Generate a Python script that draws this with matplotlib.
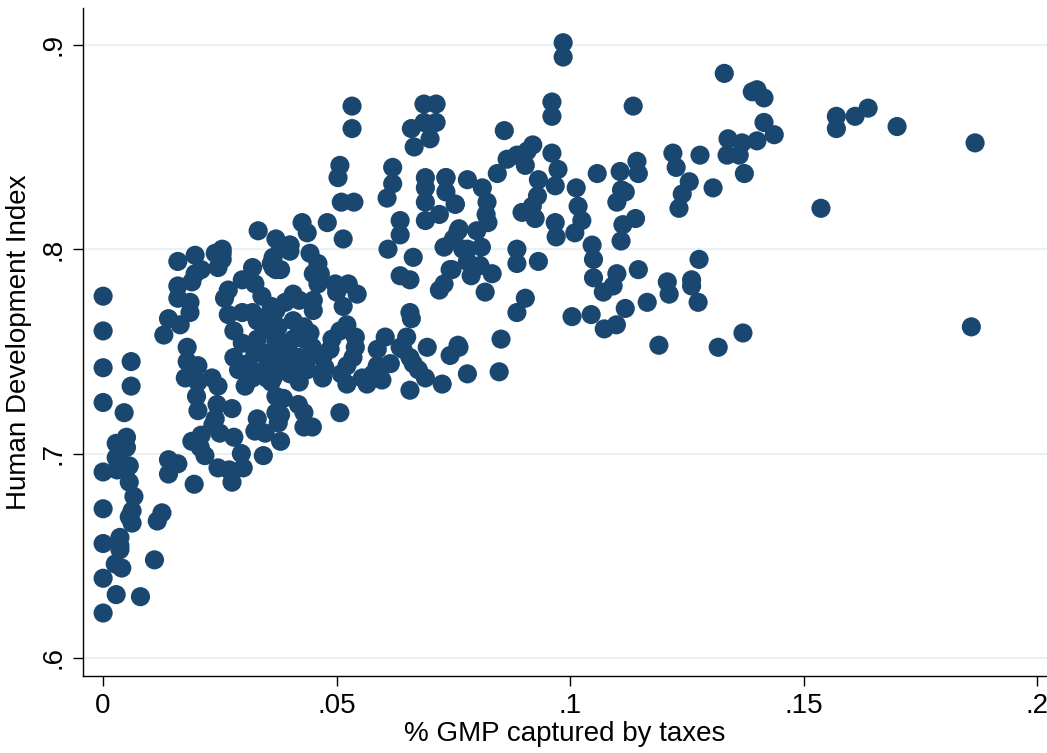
import matplotlib
matplotlib.use('Agg')
import matplotlib.pyplot as plt

# share of gross municipal product captured by taxes, and HDI for each municipality
tax_share = [
    0, 0, 0, 0, 0, 0, 0, 0, 0,
    .006, .006, .0045, .013, .014, .0165, .016, .0197, .016, .016, .0186, .0186, .0197, .019,
    .021, .018, .018, .0203, .0176, .0203, .020, .0203, .0233, .0246, .0244, .024, .0276,
    .0255, .0246, .0255, .0268, .026, .0268, .028, .028, .0298, .032, .0325, .034, .036,
    .037, .0332, .038, .037, .036, .0375, .029, .031, .0304, .0325, .036, .037, .038, .035,
    .033, .035, .037, .038, .0325, .0347, .036, .032, .033, .035, .0298, .0298, .032, .035, .033,
    .0028, .005, .005, .0028, .003, .0056, .0056, .0066, .0062, .0056, .0062, .0036, .0036,
    .0036, .0026, .004, .0028, .008, .0126, .0116, .011, .014, .016, .014, .0195, .019, .021,
    .0208, .0218, .0235, .025, .028, .0246, .027, .0276, .030, .0296, .0325, .0347, .0343,
    .0375, .038,
    .0426, .0437, .048, .0514, .038, .040, .040, .0443, .046, .0465, .045, .0364, .038, .046,
    .0497, .0525, .050, .0544, .0407, .042, .045, .045, .0514, .0522, .0507, .054, .054,
    .0535, .0522, .049, .0486, .047, .0475, .047, .051, .0522, .0555, .0565, .0507, .0448,
    .0437, .045, .042, .042, .0386, .0364, .0386, .0418, .043, .043, .0448, .037,
    .0587, .0604, .0587, .0615, .0578, .0597, .0636, .0642, .065, .0657, .0664, .0675, .069,
    .0657, .0694, .0726, .0743, .076, .078, .0657, .066, .072, .073, .0743, .0636, .0657,
    .0664, .061, .0636, .0636, .069, .072, .073, .075, .076, .078, .0754, .069, .0608,
    .051, .0537,
    .037, .039, .0407, .043, .0407, .039, .043, .037, .0364, .040, .0443, .0407, .0437, .040,
    .038,
    .0961, .0961, .1135, .0859, .0865, .0886, .0904, .0908, .092, .0961, .0974, .0932, .0968,
    .1013, .0844, .078, .0734, .0812, .0822, .082, .0824, .080, .0762, .0734, .0897, .0919,
    .0925, .093, .0968, .097, .101, .1025, .1017, .1058, .1107, .1143, .1146, .111, .1118,
    .110, .1113, .114, .1109,
    .077, .078, .0788, .081, .0807, .0833, .0818, .0747, .0886, .0886, .0932, .0904, .0886,
    .0852, .0848, .0762, .1047, .105, .105, .1071, .1092, .110, .1146, .1118, .1165, .1004,
    .1045, .1073, .1099, .119, .1208, .1212,
    .133, .139, .140, .1415, .1415, .1437, .140, .1338, .1368, .1336, .1362, .1373, .1278,
    .122, .1227, .1255, .1306, .124, .1233, .1537, .157, .157, .161, .1638, .1276, .126,
    .126, .1274, .137, .1317,
    .170, .1867, .1859, .0985, .0985,
    .0533, .0533, .0687, .0713, .0687, .0713, .066, .070, .0666, .0507, .0503, .062, .062,
    .069, .069, .0734, .0754,
    .024, .0255, .0364, .040,
]
hdi = [
    .777, .760, .742, .725, .691, .673, .656, .639, .622,
    .745, .733, .720, .758, .766, .763, .794, .797, .782, .776, .774, .769, .788, .784,
    .790, .752, .745, .743, .737, .735, .728, .721, .737, .733, .724, .717, .722,
    .798, .791, .795, .780, .776, .768, .760, .747, .785, .791, .783, .777, .793,
    .805, .809, .801, .790, .772, .762, .741, .744, .733, .740, .735, .728, .719, .742,
    .756, .761, .754, .747, .749, .749, .746, .769, .765, .767, .769, .754, .737, .737, .717,
    .705, .708, .703, .698, .692, .694, .686, .679, .672, .669, .666, .659, .655,
    .653, .646, .644, .631, .630, .671, .667, .648, .697, .695, .690, .685, .706, .709,
    .703, .699, .714, .710, .708, .693, .692, .686, .693, .700, .711, .710, .699,
    .715, .706,
    .813, .808, .813, .805, .801, .802, .799, .798, .793, .788, .788, .791, .790, .783,
    .783, .783, .779, .778, .778, .775, .775, .770, .772, .763, .760, .757, .752,
    .747, .743, .756, .751, .747, .742, .737, .739, .734, .737, .734, .720, .752,
    .746, .749, .747, .735, .744, .737, .727, .724, .720, .713, .713, .720,
    .751, .757, .743, .744, .739, .736, .752, .751, .757, .747, .744, .741, .737,
    .731, .752, .734, .748, .753, .739, .769, .766, .780, .783, .790, .787, .785,
    .796, .800, .807, .814, .814, .817, .801, .805, .809, .800, .822, .823, .825,
    .823, .823,
    .770, .774, .765, .762, .756, .752, .756, .757, .747, .749, .759, .741, .741, .739,
    .742,
    .872, .865, .870, .858, .844, .846, .841, .848, .851, .847, .839, .834, .831,
    .830, .837, .834, .835, .830, .823, .817, .813, .809, .810, .828, .818, .821,
    .815, .826, .813, .806, .808, .814, .821, .837, .838, .843, .837, .829, .828,
    .823, .812, .815, .804,
    .800, .794, .787, .801, .792, .788, .779, .790, .800, .793, .794, .776, .769,
    .756, .740, .752, .802, .795, .786, .779, .782, .788, .790, .771, .774, .767,
    .768, .761, .763, .753, .784, .778,
    .886, .877, .878, .874, .862, .856, .853, .854, .852, .846, .846, .837, .846,
    .847, .840, .833, .830, .827, .820, .820, .865, .859, .865, .869, .795, .785,
    .782, .774, .759, .752,
    .860, .852, .762, .901, .894,
    .870, .859, .871, .871, .862, .862, .859, .854, .850, .841, .835, .840, .832,
    .835, .830, .835, .822,
    .798, .800, .796, .802,
]

fig = plt.figure(figsize=(10.47, 7.53), dpi=100)
ax = fig.add_axes([0.0793, 0.1023, 0.9207, 0.8871])

font = ['Liberation Sans Narrow', 'Liberation Sans', 'DejaVu Sans']

ax.scatter(tax_share, hdi, s=190, color='#1a476f', edgecolors='none', zorder=3)

ax.set_xlim(-0.0043, 0.2021)
ax.set_ylim(0.5912, 0.918)

ax.set_xticks([0, .05, .1, .15, .2])
ax.set_xticklabels(['0', '.05', '.1', '.15', '.2'], family=font, fontsize=20)
ax.set_yticks([.6, .7, .8, .9])
ax.set_yticklabels(['.6', '.7', '.8', '.9'], family=font, fontsize=20,
                   rotation=90, va='center')

ax.grid(axis='y', color='#eaf2f3', linewidth=1.6, zorder=0)
ax.set_axisbelow(True)
ax.spines['top'].set_visible(False)
ax.spines['right'].set_visible(False)
ax.spines['left'].set_linewidth(1.0)
ax.spines['bottom'].set_linewidth(1.0)
ax.tick_params(direction='out', length=7, width=1.0, pad=5)

ax.set_xlabel('% GMP captured by taxes', family=font, fontsize=20, labelpad=2)
ax.set_ylabel('Human Development Index', family=font, fontsize=20, labelpad=6)

fig.savefig('out.png', dpi=100)
